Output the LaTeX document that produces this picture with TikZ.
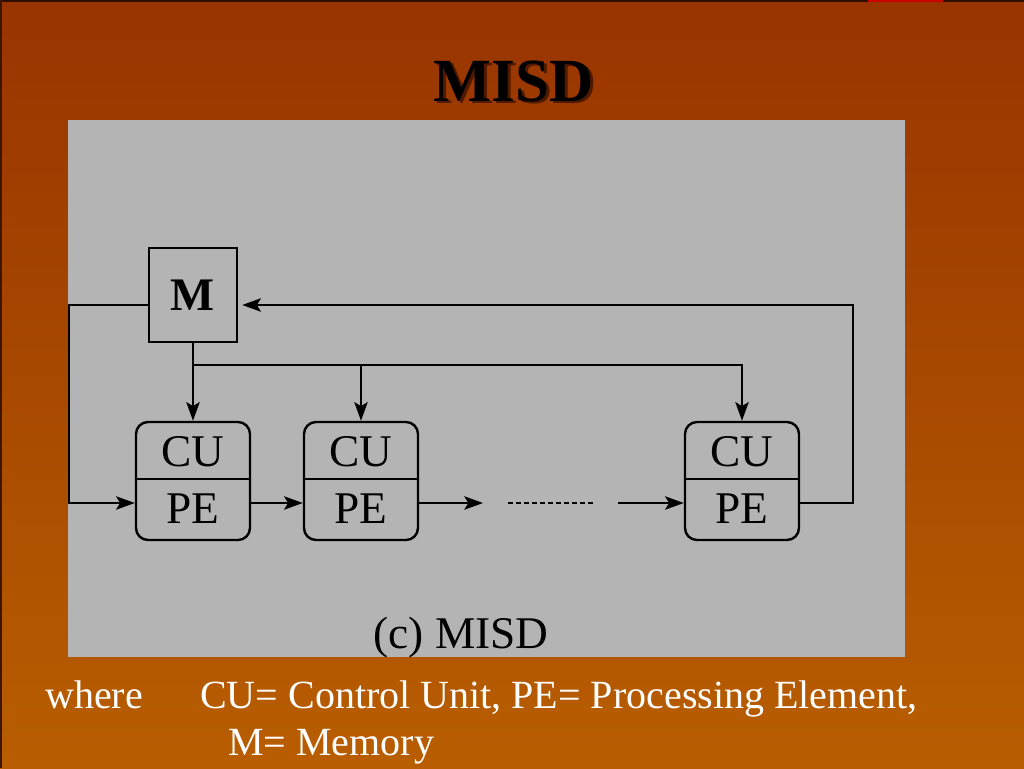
\documentclass[tikz,border=0pt]{standalone}
\usepackage{fontspec}
\setmainfont{Liberation Serif}
\usetikzlibrary{arrows.meta}
\definecolor{bgtop}{RGB}{152,52,0}
\definecolor{bgbot}{RGB}{184,94,0}
\definecolor{panel}{RGB}{180,180,180}
\definecolor{shadowc}{RGB}{80,25,0}
\begin{document}
\begin{tikzpicture}[x=0.75pt,y=-0.75pt,
  wire/.style={line width=1.8pt,black},
  arr/.style={wire,-{Stealth[length=14pt,width=10pt,inset=3pt]}},
  unitbox/.style={draw,line width=1.8pt,rounded corners=9pt,minimum width=85.5pt,minimum height=88.5pt,inner sep=0pt},
  membox/.style={draw,line width=1.8pt,minimum width=66pt,minimum height=70.5pt,inner sep=0pt,font=\fontsize{35}{35}\selectfont\bfseries},
  lbl/.style={font=\fontsize{34}{34}\selectfont,anchor=base,inner sep=0pt},
  note/.style={font=\fontsize{30}{30}\selectfont,text=white,anchor=base west,inner sep=0pt}]
\useasboundingbox (0,0) rectangle (1024,768);
\shade[top color=bgtop,bottom color=bgbot] (0,0) rectangle (1024,768);
\fill[black!70!bgtop] (0,0) rectangle (1024,1.5);
\fill[black!60!bgtop] (0,0) rectangle (1.5,768);
\fill[red!80!black] (868,0) rectangle (943,2);
% title with drop shadow (one text node)
\node[font=\fontsize{46}{46}\selectfont\bfseries,anchor=base,inner sep=0pt] (title) at (514,101)
  {\rlap{\hspace{2.2pt}\raisebox{-2.2pt}{\color{shadowc}MISD}}MISD};
% panel
\fill[panel] (68,120) rectangle (905,657);
% memory
\node[membox] (M) at (193,295) {M};
% units
\foreach \n/\x in {b1/193,b2/361,b3/742}{
  \node[unitbox] (\n) at (\x,481) {};
  \draw[wire] ([yshift=1.5pt]\n.west) -- ([yshift=1.5pt]\n.east);
  \node[lbl] (\n cu) at (\x,466) {CU};
  \node[lbl] (\n pe) at (\x,523) {PE};
}
% bus from M
\coordinate (j1) at (193,365);
\draw[arr] (M.south) -- (b1.north);
\draw[arr] (j1) -| (b2.north);
\draw[arr] (j1) -| (b3.north);
% left loop
\coordinate (lx) at (69,400);
\draw[arr] ([yshift=-7.5pt]M.west) -| (lx) |- ([yshift=-16.5pt]b1.west);
% right loop
\coordinate (rx) at (853,400);
\draw[arr,shorten >=3pt] ([yshift=-16.5pt]b3.east) -| (rx) |- ([yshift=-7.5pt]M.east);
% chain
\draw[arr] ([yshift=-16.5pt]b1.east) -- ([yshift=-16.5pt]b2.west);
\coordinate (a3) at (483,503);
\draw[arr] ([yshift=-16.5pt]b2.east) -- (a3);
\coordinate (d1) at (508,503);
\coordinate (d2) at (593,503);
\draw[line width=1.3pt,dash pattern=on 4pt off 2pt] (d1) -- (d2);
\coordinate (s3) at (618,503);
\draw[arr] (s3) -- ([yshift=-16.5pt]b3.west);
% caption
\node[lbl] (cap) at (461,648) {(c) MISD};
% notes
\node[note] (where) at (45,708) {where};
\node[note] (def1) at (200,708) {CU= Control Unit, PE= Processing Element,};
\node[note] (def2) at (228,755) {M= Memory};
\end{tikzpicture}
\end{document}
